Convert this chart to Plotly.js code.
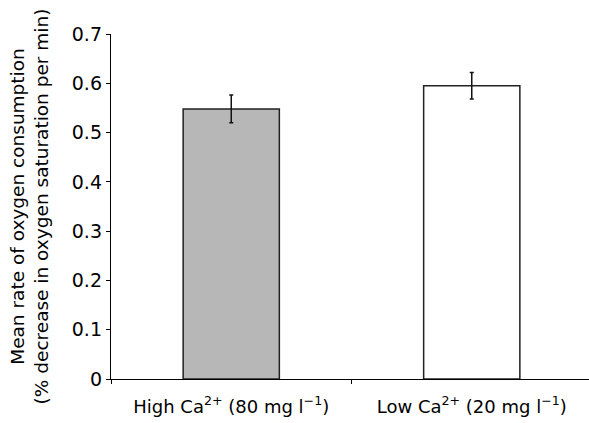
<!DOCTYPE html>
<html><head><meta charset="utf-8">
<script src="https://cdn.plot.ly/plotly-3.0.1.min.js"></script>
<style>html,body{margin:0;padding:0;background:#fff}#c{width:589px;height:423px}</style>
</head><body><div id="c"></div>
<script>
const categories = ["High Ca<sup>2+</sup> (80 mg l<sup>−1</sup>)", "Low Ca<sup>2+</sup> (20 mg l<sup>−1</sup>)"];
const means = [0.548, 0.595];
const errors = [0.028, 0.027];
const barColors = ["#b7b7b7", "#ffffff"];
const yTitle = "Mean rate of oxygen consumption<br>(% decrease in oxygen saturation per min)";

Plotly.newPlot("c", [{
  type: "bar",
  x: categories,
  y: means,
  width: 0.4,
  marker: {color: barColors, line: {color: "#222", width: 1.5}},
  error_y: {type: "data", array: errors, visible: true, color: "#111", thickness: 1.5, width: 2}
}], {
  width: 589, height: 423,
  margin: {l: 111, r: 0, t: 34, b: 44},
  paper_bgcolor: "#fff", plot_bgcolor: "#fff",
  font: {family: "DejaVu Sans, Liberation Sans, Arial, sans-serif", size: 18, color: "#000"},
  showlegend: false,
  xaxis: {
    range: [-0.5, 1.4875], type: "category",
    showline: true, linecolor: "#000", linewidth: 1.2,
    ticks: "outside", tickson: "boundaries", ticklen: 4, tickcolor: "#000",
    showgrid: false, zeroline: false,
    tickfont: {size: 18}, ticklabelstandoff: 11
  },
  yaxis: {
    range: [0, 0.7], dtick: 0.1, tickformat: ".1~f",
    showline: true, linecolor: "#000", linewidth: 1.2,
    ticks: "outside", ticklen: 4, tickcolor: "#000",
    showgrid: false, zeroline: false,
    tickfont: {size: 19},
    title: {text: yTitle, font: {size: 18.5}, standoff: 18}
  }
}, {displayModeBar: false, staticPlot: true});
</script></body></html>
